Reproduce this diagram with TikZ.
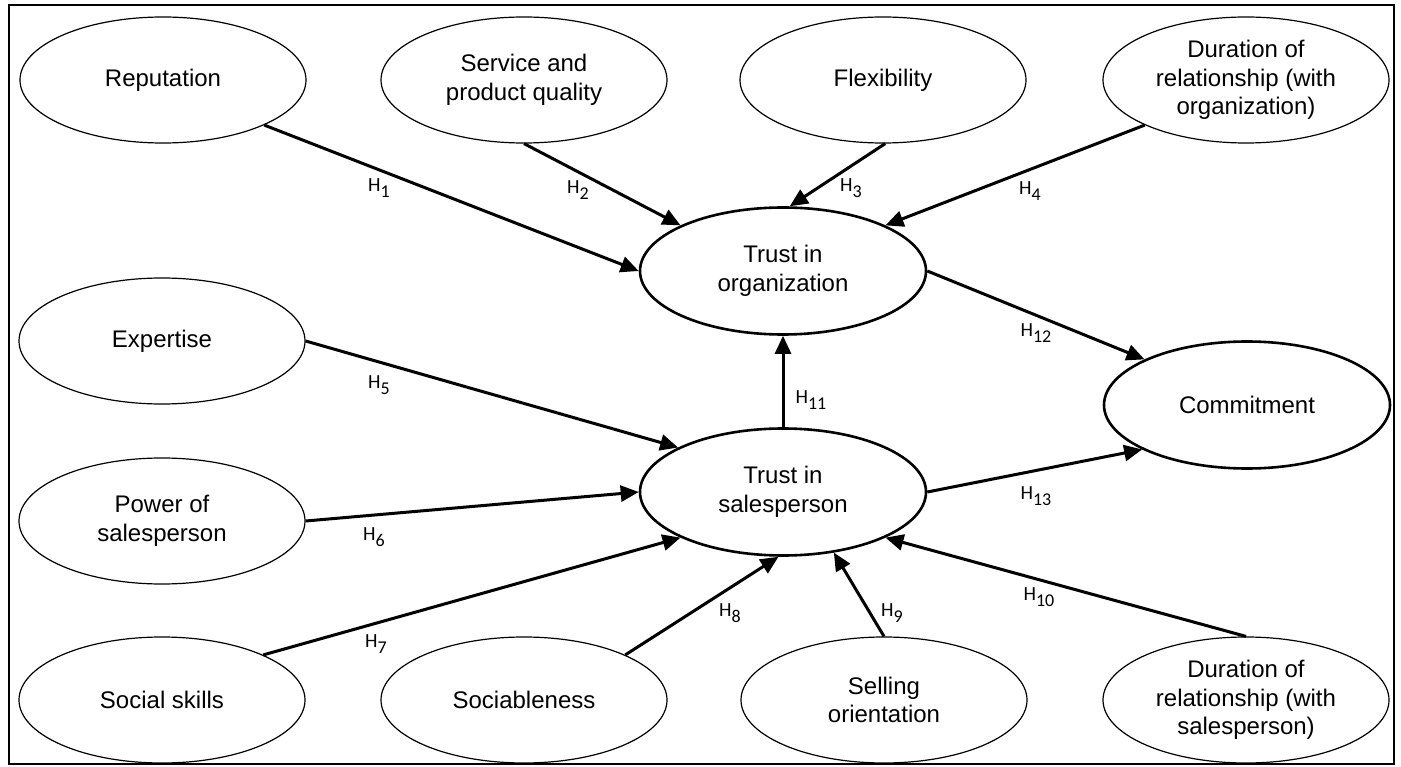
\documentclass[tikz,border=0pt]{standalone}
\usepackage{fontspec}
\setmainfont{Liberation Sans}
\newfontfamily\labfont{Carlito}
\usetikzlibrary{shapes.geometric, arrows.meta, positioning}

\newcommand{\hyp}[1]{{\labfont H\raisebox{-0.3em}{\fontsize{18}{18}\selectfont #1}}}

\begin{document}
\begin{tikzpicture}[x=1pt,y=-1pt,
  construct/.style={ellipse, draw=black, line width=1.2pt, minimum width=286pt,
    minimum height=126pt, inner sep=0pt, align=center, font=\fontsize{24}{28.5}\selectfont},
  focal/.style={construct, line width=2.6pt, minimum width=286pt, minimum height=127pt},
  hyparrow/.style={line width=3pt, -{Triangle[length=18pt, width=16pt]}},
  hlab/.style={font=\fontsize{20}{20}\selectfont, inner sep=0pt}]
  \path[use as bounding box] (0,0) rectangle (1401,767);

  % Frame
  \draw[line width=1.2pt] (9,5) rectangle (1394,764);

  % Antecedents of trust in organization
  \node[construct] (rep)  at (163,80)  {Reputation};
  \node[construct] (sqp)  at (524,80)  {Service and\\product quality};
  \node[construct] (flex) at (883,80)  {Flexibility};
  \node[construct] (dorg) at (1246,80) {Duration of\\relationship (with\\organization)};

  % Focal constructs
  \node[focal] (torg) at (783,271) {Trust in\\organization};
  \node[focal] (tsal) at (783,492) {Trust in\\salesperson};
  \node[focal] (com)  at (1247,405) {Commitment};

  % Antecedents of trust in salesperson
  \node[construct] (exp)  at (162,341)  {Expertise};
  \node[construct] (pow)  at (162,521)  {Power of\\salesperson};
  \node[construct] (soc)  at (162,700)  {Social skills};
  \node[construct] (sbl)  at (524,700)  {Sociableness};
  \node[construct] (sell) at (884,700)  {Selling\\orientation};
  \node[construct] (dsal) at (1246,700) {Duration of\\relationship (with\\salesperson)};

  % Hypothesised paths
  \draw[hyparrow] (rep.-24)   -- (torg.180);
  \draw[hyparrow] (sqp.-90)   -- (torg.156);
  \draw[hyparrow] (flex.-88)  -- (torg.84);
  \draw[hyparrow] (dorg.204)  -- (torg.24);
  \draw[hyparrow] (exp.0)     -- (tsal.157);
  \draw[hyparrow] (pow.0)     -- (tsal.180);
  \draw[hyparrow] (soc.24)    -- (tsal.204);
  \draw[hyparrow] (sbl.24)    -- (tsal.266);
  \draw[hyparrow] (sell.90)   -- (tsal.310);
  \draw[hyparrow] (dsal.90)   -- (tsal.336);
  \draw[hyparrow] (tsal.90)   -- (torg.-90);
  \draw[hyparrow] (torg.0)    -- (com.156);
  \draw[hyparrow] (tsal.0)    -- (com.203);

  % Path labels
  \foreach \nm/\x/\y/\num in {h1/379/188/1, h2/578/190/2, h3/851/188/3, h4/1030/191/4,
    h5/379/385/5, h6/374/537/6, h7/376/644/7, h8/730/613/8, h9/892/613/9,
    h10/1039/597/10, h11/811/400/11, h12/1036/333/12, h13/1036/496/13}{
    \node[hlab] (\nm) at (\x,\y) {\hyp{\num}};
  }
\end{tikzpicture}
\end{document}
